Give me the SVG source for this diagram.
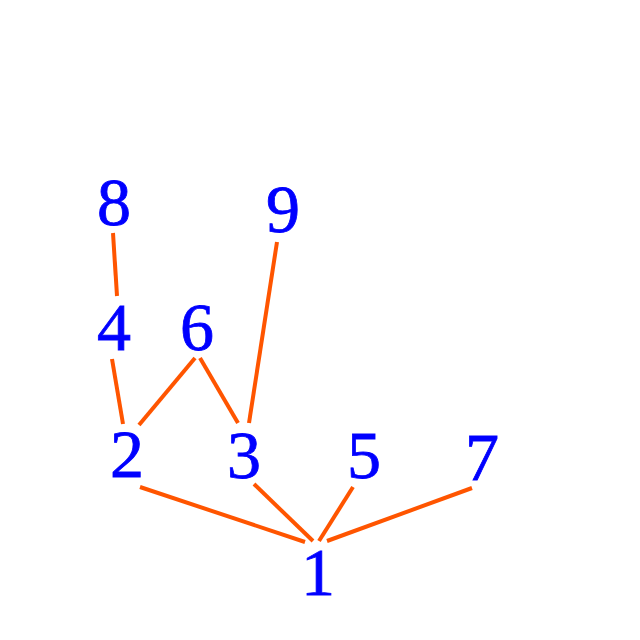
<svg xmlns="http://www.w3.org/2000/svg" width="640" height="640" viewBox="0 0 640 640">
<style>
.e{stroke:#ff5500;stroke-width:4;fill:none}
.t{font-size:68px;fill:#0000ff;stroke:#0000ff;stroke-width:0.8;text-anchor:middle}
</style>
<rect width="640" height="640" fill="#ffffff"/>
<g id="edges">
<line class="e" x1="113" y1="233" x2="117" y2="296"/>
<line class="e" x1="112" y1="359" x2="123" y2="424"/>
<line class="e" x1="139" y1="425" x2="195" y2="358"/>
<line class="e" x1="200" y1="358" x2="238" y2="423"/>
<line class="e" x1="277" y1="242" x2="249" y2="423"/>
<line class="e" x1="140" y1="487" x2="305" y2="542"/>
<line class="e" x1="254" y1="484" x2="313" y2="541"/>
<line class="e" x1="353" y1="487" x2="319" y2="541"/>
<line class="e" x1="472" y1="488" x2="327" y2="541"/>
</g>
<g id="n8"><text class="t" x="114" y="225" font-family="Liberation Serif">8</text></g>
<g id="n9"><text class="t" x="283" y="232" font-family="Liberation Serif">9</text></g>
<g id="n4"><text class="t" x="114" y="350" font-family="Liberation Serif">4</text></g>
<g id="n6"><text class="t" x="197" y="350" font-family="Liberation Serif">6</text></g>
<g id="n2"><text class="t" x="127" y="477" font-family="Liberation Serif">2</text></g>
<g id="n3"><text class="t" x="244" y="478" font-family="Liberation Serif">3</text></g>
<g id="n5"><text class="t" x="364" y="478" font-family="Liberation Serif">5</text></g>
<g id="n7"><text class="t" x="482" y="480" font-family="Liberation Serif">7</text></g>
<g id="n1"><text class="t" x="318" y="595" font-family="Liberation Serif">1</text></g>
</svg>
